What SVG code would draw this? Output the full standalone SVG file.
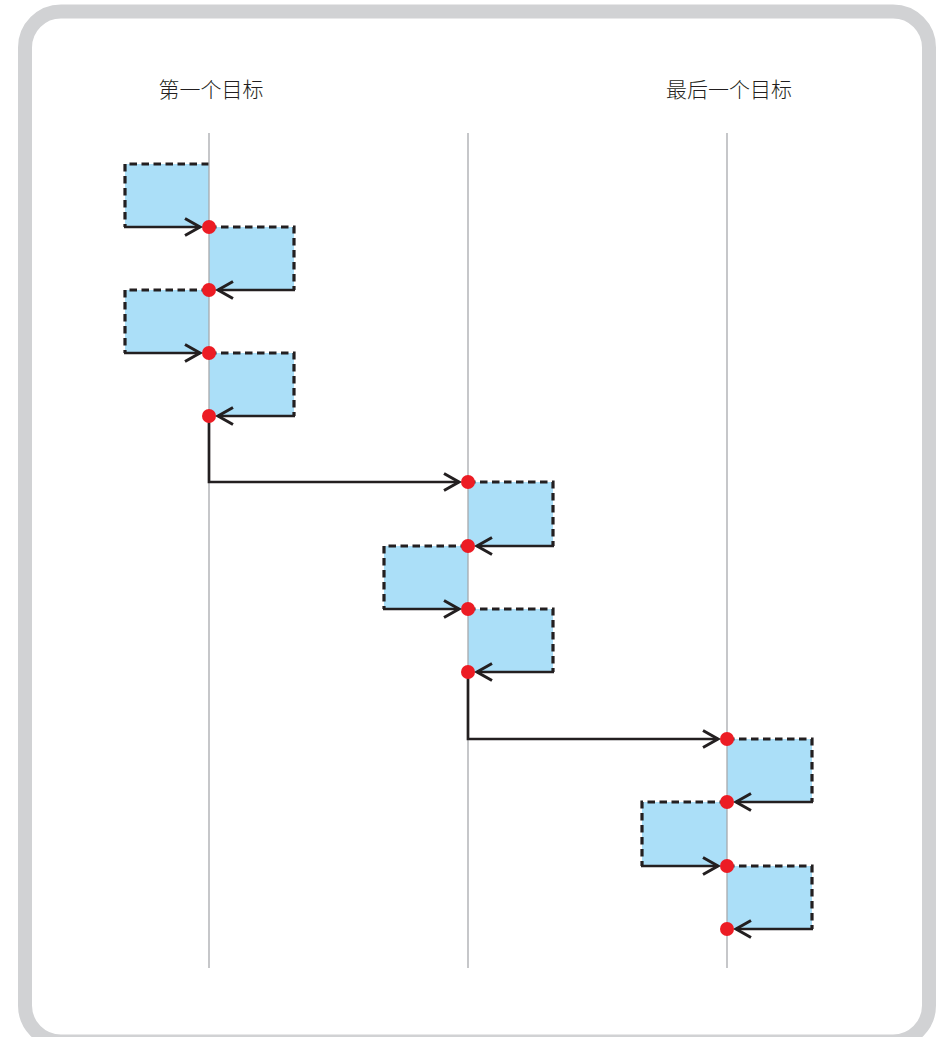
<svg xmlns="http://www.w3.org/2000/svg" width="936" height="1037" viewBox="0 0 936 1037">
<style>
.frame{fill:#ffffff;stroke:#d1d2d4;stroke-width:14}
.axis{stroke:#a7a9ac;stroke-width:1.6;opacity:0.8}
.box{fill:#abdff8;stroke:none}
.dash{fill:none;stroke:#231f20;stroke-width:3.2;stroke-dasharray:7.5 4.5}
.conn{fill:none;stroke:#231f20;stroke-width:2.7}
.dot{fill:#ec1c24}
.lbl{font-family:"Noto Sans CJK SC","Noto Sans",sans-serif;font-size:21px;font-weight:300;fill:#231f20;text-anchor:middle}
</style>
<defs>
<marker id="ah" markerUnits="userSpaceOnUse" markerWidth="22" markerHeight="22" viewBox="-18 -11 22 22" refX="0" refY="0" orient="auto">
<path d="M-15,-8.5 L0,0 L-15,8.5" fill="none" stroke="#231f20" stroke-width="3"/>
</marker>
</defs>
<rect class="frame" x="25" y="11.5" width="904" height="1030" rx="36"/>
<g id="labels">
<text class="lbl" x="211" y="97">第一个目标</text>
<text class="lbl" x="729" y="97">最后一个目标</text>
</g>
<g id="boxes">
<g id="b1"><rect class="box" x="125" y="164" width="84" height="63"/><polyline class="dash" points="209,164 125,164 125,227"/></g>
<g id="b2"><rect class="box" x="209" y="227" width="85" height="63"/><polyline class="dash" points="209,227 294,227 294,290"/></g>
<g id="b3"><rect class="box" x="125" y="290" width="84" height="63"/><polyline class="dash" points="209,290 125,290 125,353"/></g>
<g id="b4"><rect class="box" x="209" y="353" width="85" height="63"/><polyline class="dash" points="209,353 294,353 294,416"/></g>
<g id="b5"><rect class="box" x="468" y="482" width="85" height="64"/><polyline class="dash" points="468,482 553,482 553,546"/></g>
<g id="b6"><rect class="box" x="384" y="546" width="84" height="63"/><polyline class="dash" points="468,546 384,546 384,609"/></g>
<g id="b7"><rect class="box" x="468" y="609" width="85" height="63"/><polyline class="dash" points="468,609 553,609 553,672"/></g>
<g id="b8"><rect class="box" x="727" y="739" width="85" height="63"/><polyline class="dash" points="727,739 812,739 812,802"/></g>
<g id="b9"><rect class="box" x="642" y="802" width="85" height="64"/><polyline class="dash" points="727,802 642,802 642,866"/></g>
<g id="b10"><rect class="box" x="727" y="866" width="85" height="63"/><polyline class="dash" points="727,866 812,866 812,929"/></g>
</g>
<g id="axes">
<line class="axis" x1="209" y1="133" x2="209" y2="968"/>
<line class="axis" x1="468" y1="133" x2="468" y2="968"/>
<line class="axis" x1="727" y1="133" x2="727" y2="968"/>
</g>
<g id="connectors">
<line class="conn" x1="124" y1="227" x2="200" y2="227" marker-end="url(#ah)"/>
<line class="conn" x1="295" y1="290" x2="218" y2="290" marker-end="url(#ah)"/>
<line class="conn" x1="124" y1="353" x2="200" y2="353" marker-end="url(#ah)"/>
<line class="conn" x1="295" y1="416" x2="218" y2="416" marker-end="url(#ah)"/>
<polyline class="conn" points="209,416 209,482 459,482" marker-end="url(#ah)"/>
<line class="conn" x1="554" y1="546" x2="477" y2="546" marker-end="url(#ah)"/>
<line class="conn" x1="383" y1="609" x2="459" y2="609" marker-end="url(#ah)"/>
<line class="conn" x1="554" y1="672" x2="477" y2="672" marker-end="url(#ah)"/>
<polyline class="conn" points="468,672 468,739 718,739" marker-end="url(#ah)"/>
<line class="conn" x1="813" y1="802" x2="736" y2="802" marker-end="url(#ah)"/>
<line class="conn" x1="641" y1="866" x2="718" y2="866" marker-end="url(#ah)"/>
<line class="conn" x1="813" y1="929" x2="736" y2="929" marker-end="url(#ah)"/>
</g>
<g id="dots">
<circle class="dot" cx="209" cy="227" r="7"/>
<circle class="dot" cx="209" cy="290" r="7"/>
<circle class="dot" cx="209" cy="353" r="7"/>
<circle class="dot" cx="209" cy="416" r="7"/>
<circle class="dot" cx="468" cy="482" r="7"/>
<circle class="dot" cx="468" cy="546" r="7"/>
<circle class="dot" cx="468" cy="609" r="7"/>
<circle class="dot" cx="468" cy="672" r="7"/>
<circle class="dot" cx="727" cy="739" r="7"/>
<circle class="dot" cx="727" cy="802" r="7"/>
<circle class="dot" cx="727" cy="866" r="7"/>
<circle class="dot" cx="727" cy="929" r="7"/>
</g>
</svg>
